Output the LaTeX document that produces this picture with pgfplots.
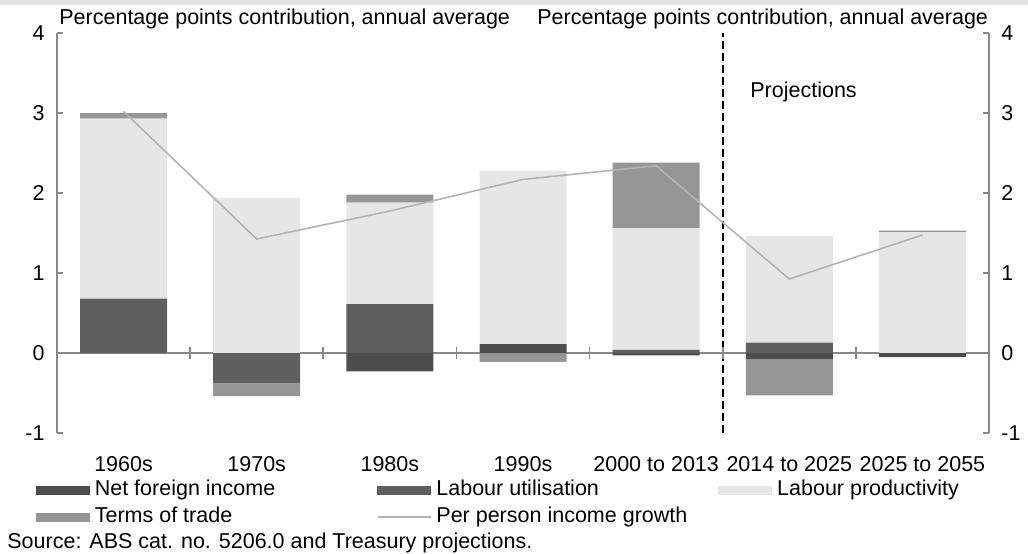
\documentclass[border=0pt]{standalone}
\usepackage{fontspec}
\setmainfont{Liberation Sans}
\usepackage{pgfplots}
\usepackage{pgfplotstable}
\pgfplotsset{compat=1.18}

\definecolor{nfi}{HTML}{4D4D4D}
\definecolor{lu}{HTML}{5F5F5F}
\definecolor{lp}{HTML}{E6E6E6}
\definecolor{tot}{HTML}{969696}
\definecolor{linegray}{HTML}{B3B3B3}
\definecolor{axisgray}{HTML}{888888}
\definecolor{titlegray}{HTML}{E4E4E4}
\newcommand\chartfont{\fontsize{10.75}{13}\selectfont}

% contributions, percentage points (stacked), and income growth per person
\pgfplotstableread{
x   nfi    lu     lp     tot    growth
0   0.00   0.68   2.25   0.07   3.02
1   0.00  -0.38   1.94  -0.16   1.425
2  -0.23   0.61   1.27   0.10   1.775
3   0.11   0.00   2.17  -0.11   2.17
4  -0.03   0.04   1.52   0.82   2.34
5  -0.08   0.13   1.33  -0.45   0.925
6  -0.05   0.00   1.51   0.02   1.475
}\contrib

\begin{document}
\begin{tikzpicture}[font=\chartfont]
\path[use as bounding box] (0,0) rectangle (514pt,276.5pt);
\fill[titlegray] (0,274pt) rectangle (514pt,280pt);

% bars
\begin{axis}[
  at={(28.5pt,60pt)}, anchor=south west,
  width=466pt, height=200pt, scale only axis,
  xmin=-0.5, xmax=6.5, ymin=-1, ymax=4,
  ybar stacked, stack negative=separate, bar width=43.5pt,
  axis y line*=left, axis x line*=bottom,
  x axis line style={draw=none},
  y axis line style={axisgray, line width=0.9pt},
  ytick={-1,0,1,2,3,4}, yticklabels={-1,0,1,2,3,4},
  tick align=inside, major tick length=3pt,
  ytick style={axisgray, line width=0.9pt},
  yticklabel style={anchor=east, xshift=-6pt, inner sep=0pt, font=\chartfont},
  xtick={0,...,6}, xtick style={draw=none},
  xticklabels={1960s,1970s,1980s,1990s,2000 to 2013,2014 to 2025,2025 to 2055},
  xticklabel style={anchor=base, yshift=-19pt, inner sep=0pt, font=\chartfont},
]
\addplot[fill=nfi, draw=none] table[x=x, y=nfi] {\contrib};
\addplot[fill=lu, draw=none] table[x=x, y=lu] {\contrib};
\addplot[fill=lp, draw=none] table[x=x, y=lp] {\contrib};
\addplot[fill=tot, draw=none] table[x=x, y=tot] {\contrib};
\draw[axisgray, line width=0.9pt] (axis cs:-0.5,0) -- (axis cs:6.5,0);
\pgfplotsinvokeforeach{0.5,1.5,2.5,3.5,4.5,5.5}{
  \draw[axisgray, line width=0.9pt] ([yshift=-3pt]axis cs:#1,0) -- ([yshift=3pt]axis cs:#1,0);
}
\draw[black, line width=1pt, dash pattern=on 4pt off 2pt] (axis cs:4.5,-1) -- (axis cs:4.5,4);
\end{axis}

% line, right axis and legend
\begin{axis}[
  at={(28.5pt,60pt)}, anchor=south west,
  width=466pt, height=200pt, scale only axis,
  xmin=-0.5, xmax=6.5, ymin=-1, ymax=4,
  axis x line=none, axis y line*=right,
  y axis line style={axisgray, line width=0.9pt},
  ytick={-1,0,1,2,3,4}, yticklabels={-1,0,1,2,3,4},
  tick align=inside, major tick length=3pt,
  ytick style={axisgray, line width=0.9pt},
  yticklabel style={anchor=west, xshift=6pt, inner sep=0pt, font=\chartfont},
  legend columns=3, legend cell align=left,
  legend style={at={(-0.0225,-0.11625)}, anchor=north west,
    draw=none, fill=none, inner sep=0pt, outer sep=0pt, font=\chartfont,
    row sep=3pt,
    nodes={inner sep=0pt, text height=8pt, text depth=2.5pt},
    /tikz/every odd column/.style={column sep=2.5pt}},
]
\addlegendimage{legend image code/.code={\fill[nfi] (0pt,-2pt) rectangle (26.5pt,2pt);}}
\addlegendentry{\makebox[141pt][l]{Net foreign income}}
\addlegendimage{legend image code/.code={\fill[lu] (0pt,-2pt) rectangle (26.5pt,2pt);}}
\addlegendentry{\makebox[141pt][l]{Labour utilisation}}
\addlegendimage{legend image code/.code={\fill[lp] (0pt,-2pt) rectangle (26.5pt,2pt);}}
\addlegendentry{Labour productivity}
\addlegendimage{legend image code/.code={\fill[tot] (0pt,-2pt) rectangle (26.5pt,2pt);}}
\addlegendentry{\makebox[141pt][l]{Terms of trade}}
\addplot[linegray, line width=0.8pt, mark=none,
  legend image code/.code={\draw[linegray, line width=0.8pt] (0pt,0pt) -- (26.5pt,0pt);}]
  table[x=x, y=growth] {\contrib};
\addlegendentry{\makebox[141pt][l]{Per person income growth}}
\end{axis}

\node[anchor=base west, inner sep=0pt] at (29.5pt,264pt) {Percentage points contribution, annual average};
\node[anchor=base west, inner sep=0pt] at (268.5pt,264pt) {Percentage points contribution, annual average};
\node[anchor=base west, inner sep=0pt] at (375pt,228pt) {Projections};
\node[anchor=base west, inner sep=0pt] at (3.5pt,2.5pt) {Source: ABS cat. no. 5206.0 and Treasury projections.};
\end{tikzpicture}
\end{document}
